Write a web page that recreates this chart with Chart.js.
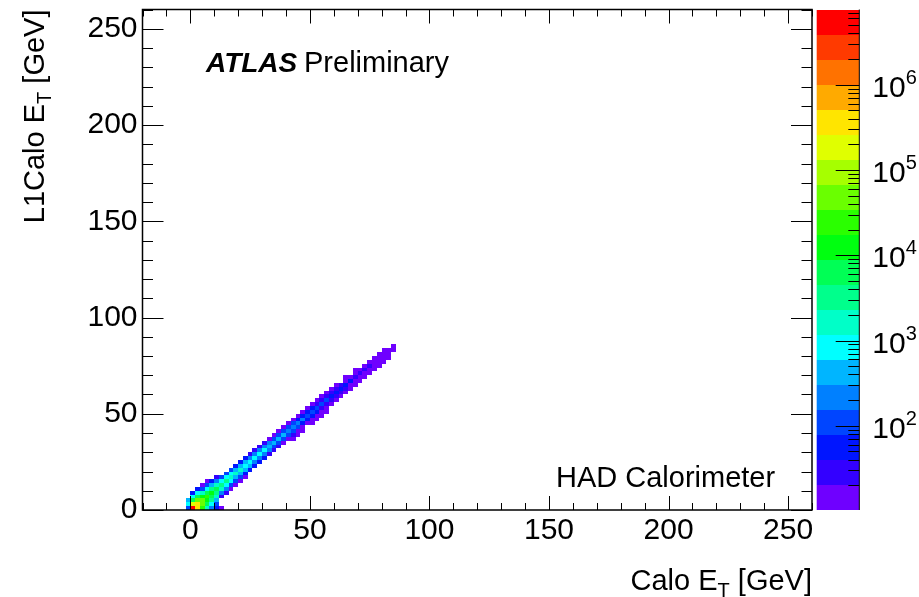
<!DOCTYPE html>
<html>
<head>
<meta charset="utf-8">
<script src="https://cdn.jsdelivr.net/npm/chart.js@4.4.0/dist/chart.umd.min.js"></script>
<style>
  html, body { margin: 0; padding: 0; background: #fff; }
</style>
</head>
<body>
<canvas id="myChart" width="919" height="597"></canvas>
<script>
// L1Calo ET vs Calo ET, HAD calorimeter, 2 GeV bins
const binWidth = 2;
const colX = [-2, 0, 2, 4, 6, 8, 10, 12, 14, 16, 18, 20, 22, 24, 26, 28, 30, 32, 34, 36, 38, 40,
  42, 44, 46, 48, 50, 52, 54, 56, 58, 60, 62, 64, 66, 68, 70, 72, 74, 76, 78, 80, 82, 84];
const colYStart = [0, 0, 0, 0, 0, 0, 0, 0, 8, 10, 12, 14, 16, 20, 22, 24, 26, 28, 30, 32, 34, 36,
  36, 38, 40, 44, 44, 46, 48, 50, 54, 56, 58, 60, 62, 64, 66, 68, 70, 72, 74, 76, 78, 82];
const colCounts = [
  [150, 800, 400],
  [4500000, 150000, 8000, 900, 60],
  [400000, 300000, 40000, 5000, 600, 40],
  [30000, 40000, 40000, 12000, 1500, 150, 15],
  [2000, 6000, 12000, 20000, 8000, 1000, 100, 12],
  [300, 800, 2500, 6000, 10000, 3000, 400, 40],
  [40, 120, 400, 1200, 3500, 5600, 1800, 200, 25],
  [15, 0, 0, 35, 224, 1259, 3548, 1122, 141],
  [25, 158, 891, 2512, 794, 100],
  [20, 126, 708, 1995, 631, 79],
  [16, 100, 562, 1585, 501, 63],
  [13, 79, 447, 1259, 398, 50],
  [11, 63, 355, 1000, 316, 40],
  [56, 316, 891, 282, 35],
  [50, 282, 794, 251, 32],
  [45, 251, 708, 224, 28],
  [40, 224, 631, 200, 25],
  [32, 178, 501, 158, 20],
  [25, 141, 398, 126, 16],
  [22, 126, 355, 112, 14],
  [20, 112, 316, 100, 13],
  [16, 89, 251, 79, 11],
  [12, 22, 89, 224, 79, 18],
  [11, 20, 79, 200, 71, 16],
  [11, 18, 71, 178, 63, 14],
  [14, 56, 141, 50, 11],
  [11, 20, 50, 126, 45, 12],
  [11, 16, 40, 100, 35, 11],
  [12, 18, 35, 89, 32, 12],
  [11, 16, 32, 79, 28, 11],
  [14, 25, 63, 22, 11],
  [13, 28, 56, 25, 11],
  [12, 25, 50, 22],
  [12, 22, 45, 20, 11],
  [11, 20, 40, 18],
  [11, 16, 32, 14, 11],
  [12, 14, 28, 13],
  [11, 13, 25, 11],
  [12, 11, 22, 12],
  [11, 12, 20, 11],
  [11, 11, 18, 11],
  [11, 13, 16, 11],
  [11, 12, 14],
  [11, 13]
];

const xTickLabels = [0, 50, 100, 150, 200, 250];
const yTickLabels = [0, 50, 100, 150, 200, 250];
const zTickLabels = [1e2, 1e3, 1e4, 1e5, 1e6];
const zMin = 10.3, zMax = 7.6e6;

// ROOT-like rainbow, bottom to top
const palette = ['#6f00ff', '#3300ff', '#0015ff', '#0045ff', '#0080ff', '#00b5ff', '#00ffff',
  '#00ffc8', '#00ff8c', '#00ff55', '#00ff10', '#2aff00', '#6aff00', '#a6ff00', '#e0ff00',
  '#ffe500', '#ffaa00', '#ff7200', '#ff3a00', '#ff0000'];

const FONT = "'Liberation Sans', Arial, sans-serif";

const cells = [];
colX.forEach((x0, i) => {
  colCounts[i].forEach((v, j) => {
    cells.push({ x: x0 + binWidth / 2, y: colYStart[i] + j * binWidth + binWidth / 2, v: v });
  });
});

function colorFor(v) {
  const lo = Math.log10(zMin), hi = Math.log10(zMax);
  let k = Math.floor((Math.log10(v) - lo) / (hi - lo) * palette.length);
  return palette[Math.max(0, Math.min(palette.length - 1, k))];
}

function line(ctx, x1, y1, x2, y2) {
  ctx.beginPath(); ctx.moveTo(x1, y1); ctx.lineTo(x2, y2); ctx.stroke();
}

// text made of pieces: [text, size, dy]
function drawPieces(ctx, pieces, x, y) {
  let cx = x;
  pieces.forEach(p => {
    ctx.font = p[1] + 'px ' + FONT;
    ctx.fillText(p[0], cx, y + p[2]);
    cx += ctx.measureText(p[0]).width;
  });
}
function piecesWidth(ctx, pieces) {
  let w = 0;
  pieces.forEach(p => { ctx.font = p[1] + 'px ' + FONT; w += ctx.measureText(p[0]).width; });
  return w;
}

const hist2d = {
  id: 'hist2d',
  beforeDatasetsDraw(chart) {
    const { ctx, chartArea: a, scales: { x, y } } = chart;
    ctx.save();
    ctx.beginPath();
    ctx.rect(a.left, a.top, a.right - a.left, a.bottom - a.top);
    ctx.clip();
    chart.data.datasets[0].data.forEach(c => {
      if (c.v < zMin) return;
      const l = Math.round(x.getPixelForValue(c.x - binWidth / 2));
      const r = Math.round(x.getPixelForValue(c.x + binWidth / 2));
      const t = Math.round(y.getPixelForValue(c.y + binWidth / 2));
      const b = Math.round(y.getPixelForValue(c.y - binWidth / 2));
      ctx.fillStyle = colorFor(c.v);
      ctx.fillRect(l, t, r - l, b - t);
    });
    ctx.restore();
  },
  afterDatasetsDraw(chart) {
    const { ctx, chartArea: a, scales: { x, y, z } } = chart;
    ctx.save();
    ctx.strokeStyle = '#000';
    ctx.lineWidth = 1;
    // inner ticks on all four sides
    x.ticks.forEach(t => {
      const px = Math.round(x.getPixelForValue(t.value)) + 0.5;
      const len = xTickLabels.includes(t.value) ? 14 : 7;
      line(ctx, px, a.bottom, px, a.bottom - len);
      line(ctx, px, a.top, px, a.top + len);
    });
    y.ticks.forEach(t => {
      const py = Math.round(y.getPixelForValue(t.value)) + 0.5;
      const len = yTickLabels.includes(t.value) ? 21 : 10.5;
      line(ctx, a.left, py, a.left + len, py);
      line(ctx, a.right, py, a.right - len, py);
    });
    ctx.lineWidth = 1.5;
    ctx.strokeRect(a.left, a.top, a.right - a.left, a.bottom - a.top);

    // colour bar
    const cbL = a.right + 4.7, cbR = a.right + 47.3;
    const lo = Math.log10(zMin), hi = Math.log10(zMax);
    const step = (hi - lo) / palette.length;
    palette.forEach((c, k) => {
      const y0 = z.getPixelForValue(Math.pow(10, lo + k * step));
      const y1 = z.getPixelForValue(Math.pow(10, lo + (k + 1) * step));
      ctx.fillStyle = c;
      ctx.fillRect(cbL, Math.round(y1), cbR - cbL, Math.round(y0) - Math.round(y1));
    });
    ctx.lineWidth = 1;
    line(ctx, cbR, a.top, cbR, a.bottom);
    for (let e = 1; e <= 6; e++) {
      for (let m = 1; m <= 9; m++) {
        const v = m * Math.pow(10, e);
        if (v < zMin || v > zMax) continue;
        const py = Math.round(z.getPixelForValue(v)) + 0.5;
        line(ctx, cbR, py, cbR - (m === 1 ? 23.6 : 11), py);
      }
    }
    ctx.fillStyle = '#000';
    ctx.textAlign = 'left';
    ctx.textBaseline = 'alphabetic';
    zTickLabels.forEach(v => {
      const py = z.getPixelForValue(v);
      const ex = String(Math.round(Math.log10(v)));
      drawPieces(ctx, [['10', 30, 12], [ex, 20, -1]], cbR + 13, py);
    });

    // labels
    ctx.font = 'bold italic 28px ' + FONT;
    ctx.fillText('ATLAS', 206, 72);
    ctx.font = '29px ' + FONT;
    ctx.fillText('Preliminary', 304, 72);
    ctx.fillText('HAD Calorimeter', 556, 487);

    // axis titles
    const xt = [['Calo E', 29, 0], ['T', 20, 7], [' [GeV]', 29, 0]];
    drawPieces(ctx, xt, a.right - piecesWidth(ctx, xt), 590);
    const yt = [['L1Calo E', 29, 0], ['T', 20, 7], [' [GeV]', 29, 0]];
    ctx.translate(43.5, a.top);
    ctx.rotate(-Math.PI / 2);
    drawPieces(ctx, yt, -piecesWidth(ctx, yt), 0);
    ctx.restore();
  }
};

const tickFont = { family: FONT, size: 30 };

const config = {
  type: 'scatter',
  data: {
    datasets: [{
      data: cells,
      pointRadius: 0,
      pointHoverRadius: 0
    }]
  },
  options: {
    responsive: false,
    animation: false,
    events: [],
    layout: { padding: { top: 9.5, left: 0, right: 0, bottom: 0 } },
    plugins: {
      legend: { display: false },
      tooltip: { enabled: false }
    },
    scales: {
      x: {
        type: 'linear', min: -20, max: 260,
        grid: { display: false, drawTicks: false },
        border: { display: false },
        ticks: {
          stepSize: 10, autoSkip: false, maxRotation: 0, padding: 3,
          color: '#000', font: tickFont,
          callback: v => xTickLabels.includes(v) ? String(v) : ''
        },
        afterFit: s => { s.height = 87; s.paddingLeft = 0; s.paddingRight = 0; }
      },
      y: {
        type: 'linear', min: 0, max: 260,
        grid: { display: false, drawTicks: false },
        border: { display: false },
        ticks: {
          stepSize: 10, autoSkip: false, padding: 5,
          color: '#000', font: tickFont,
          callback: v => yTickLabels.includes(v) ? String(v) : ''
        },
        afterFit: s => { s.width = 142.5; s.paddingTop = 0; s.paddingBottom = 0; }
      },
      z: {
        type: 'logarithmic', position: 'right', min: zMin, max: zMax,
        grid: { display: false, drawTicks: false },
        border: { display: false },
        ticks: { display: false },
        afterFit: s => { s.width = 107; s.paddingTop = 0; s.paddingBottom = 0; }
      }
    }
  },
  plugins: [hist2d]
};

const ctx = document.getElementById('myChart').getContext('2d');
const myChart = new Chart(ctx, config);
</script>
</body>
</html>
